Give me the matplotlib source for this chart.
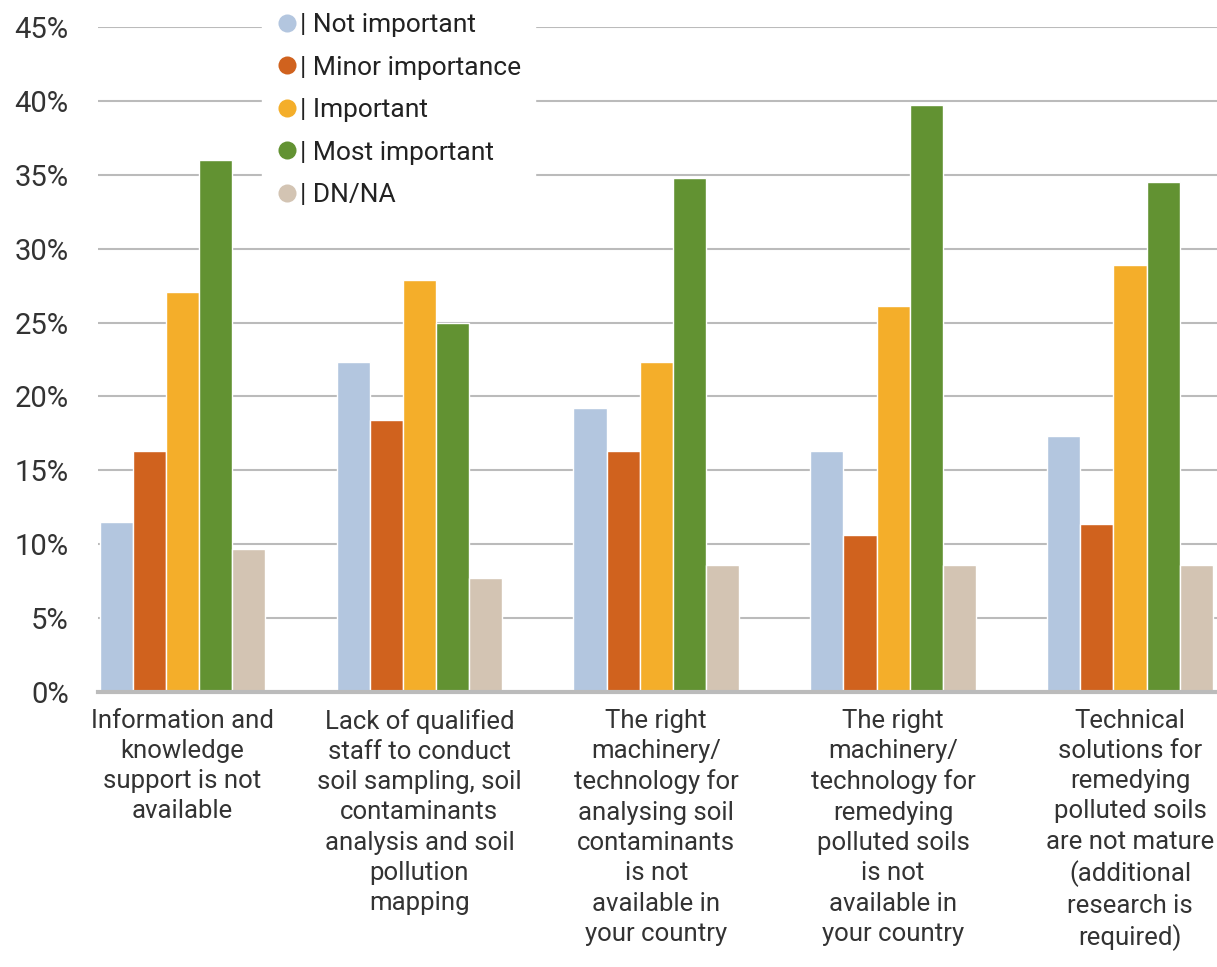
import matplotlib.pyplot as plt
import numpy as np
from matplotlib.lines import Line2D

plt.rcParams['font.family'] = ['Roboto', 'DejaVu Sans']

categories = [
    "Information and\nknowledge\nsupport is not\navailable",
    "Lack of qualified\nstaff to conduct\nsoil sampling, soil\ncontaminants\nanalysis and soil\npollution\nmapping",
    "The right\nmachinery/\ntechnology for\nanalysing soil\ncontaminants\nis not\navailable in\nyour country",
    "The right\nmachinery/\ntechnology for\nremedying\npolluted soils\nis not\navailable in\nyour country",
    "Technical\nsolutions for\nremedying\npolluted soils\nare not mature\n(additional\nresearch is\nrequired)",
]
series_names = ["Not important", "Minor importance", "Important", "Most important", "DN/NA"]
not_important = [11.5, 22.3, 19.2, 16.3, 17.3]
minor_importance = [16.3, 18.4, 16.3, 10.6, 11.4]
important = [27.1, 27.9, 22.3, 26.1, 28.9]
most_important = [36.0, 25.0, 34.8, 39.7, 34.5]
dn_na = [9.7, 7.7, 8.6, 8.6, 8.6]
colors = ["#B3C6DF", "#D0621E", "#F4AE2A", "#629232", "#D3C4B3"]

series = [not_important, minor_importance, important, most_important, dn_na]

fig = plt.figure(figsize=(12.17, 9.67), dpi=100)
ax = fig.add_axes([0.0805, 0.2844, 0.9195, 0.6877])

x = np.arange(len(categories))
width = 0.14
for i, (vals, col) in enumerate(zip(series, colors)):
    ax.bar(x + (i - 2) * width, vals, width, color=col, edgecolor="white",
           linewidth=1, zorder=3)

ax.set_ylim(0, 45)
ax.set_xlim(-0.357, 4.367)
ax.set_yticks(range(0, 50, 5))
ax.set_yticklabels([f"{v}%" for v in range(0, 50, 5)])
ax.set_xticks(x)
ax.set_xticklabels(categories, linespacing=1.33)
ax.tick_params(axis="both", length=0, colors="#333333")
ax.tick_params(axis="y", pad=21, labelsize=21)
ax.tick_params(axis="x", pad=12, labelsize=18.5)
ax.yaxis.grid(True, color="#BBBBBB", linewidth=1.5, zorder=0)
ax.set_axisbelow(True)
for s in ["top", "right", "left"]:
    ax.spines[s].set_visible(False)
ax.spines["bottom"].set_color("#BBBBBB")
ax.spines["bottom"].set_linewidth(3)
ax.spines["bottom"].set_zorder(4)

handles = [Line2D([], [], marker="o", linestyle="none", markersize=13,
                  markerfacecolor=c, markeredgecolor="none") for c in colors]
leg = ax.legend(handles, ["| " + n for n in series_names],
                loc="upper left", bbox_to_anchor=(262 / 1217, 1.0),
                bbox_transform=fig.transFigure, frameon=True, framealpha=1,
                edgecolor="white", fontsize=19, handletextpad=0.05,
                handlelength=0.9, labelspacing=0.7, borderpad=0.5,
                borderaxespad=0)
for t in leg.get_texts():
    t.set_color("#222222")
leg.set_zorder(5)

fig.savefig("out.png", dpi=100)
